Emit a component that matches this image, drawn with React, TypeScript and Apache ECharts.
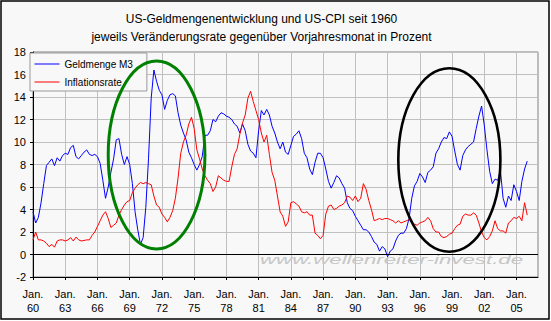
import React, { useEffect, useRef } from "react";
import * as echarts from "echarts";

// Quarterly values (Jan, Apr, Jul, Oct) starting Jan 1960
const geldmengeM3: number[] = [
  3.8, 2.8, 3.3, 4.6, // 1960
  6.3, 7.9, 8.2, 8.5, // 1961
  7.9, 8.6, 8.3, 8.8, // 1962
  9.0, 8.9, 9.5, 9.7, // 1963
  8.7, 8.5, 8.8, 9.1, // 1964
  9.3, 8.9, 8.8, 8.9, // 1965
  8.7, 8.1, 6.6, 5.0, // 1966
  6.0, 7.3, 8.5, 10.2, // 1967
  10.3, 8.9, 8.0, 8.7, // 1968
  8.0, 6.3, 3.8, 2.2, // 1969
  0.9, 1.5, 4.2, 8.5, // 1970
  13.9, 16.4, 15.4, 14.6, // 1971
  14.2, 12.9, 13.7, 14.2, // 1972
  14.3, 14.1, 12.6, 11.5, // 1973
  10.8, 10.2, 9.1, 8.6, // 1974
  8.0, 7.5, 8.0, 8.7, // 1975
  10.6, 10.6, 11.0, 12.0, // 1976
  11.8, 12.3, 12.6, 12.5, // 1977
  12.3, 12.2, 12.0, 11.6, // 1978
  11.4, 10.8, 11.6, 11.0, // 1979
  9.8, 9.2, 9.0, 8.6, // 1980
  11.0, 12.8, 12.4, 12.9, // 1981
  12.4, 11.4, 10.8, 10.0, // 1982
  9.4, 10.0, 9.1, 8.9, // 1983
  9.7, 10.5, 10.7, 11.0, // 1984
  10.3, 9.0, 8.6, 7.6, // 1985
  7.1, 8.2, 9.0, 9.0, // 1986
  8.6, 7.6, 6.5, 5.9, // 1987
  6.4, 7.0, 6.8, 6.3, // 1988
  5.9, 4.6, 4.1, 3.9, // 1989
  3.4, 3.0, 2.6, 2.2, // 1990
  2.2, 2.0, 1.6, 1.1, // 1991
  0.9, 0.3, 0.7, 0.5, // 1992
  -0.2, 0.3, 0.5, 1.2, // 1993
  1.7, 1.9, 1.9, 2.3, // 1994
  3.2, 5.0, 6.1, 6.5, // 1995
  7.2, 6.9, 6.4, 7.3, // 1996
  7.5, 7.8, 9.0, 9.4, // 1997
  10.0, 10.4, 10.3, 10.9, // 1998
  10.5, 9.2, 8.0, 7.5, // 1999
  8.8, 9.3, 9.6, 9.8, // 2000
  10.0, 11.2, 12.3, 13.2, // 2001
  11.5, 9.3, 7.4, 6.3, // 2002
  6.7, 6.6, 7.5, 5.0, // 2003
  4.2, 5.2, 4.8, 6.2, // 2004
  5.6, 4.8, 6.5, 7.6, // 2005
  8.3, // 2006
];

const inflationsrate: number[] = [
  1.3, 2.0, 1.3, 1.3, // 1960
  1.2, 1.0, 0.7, 0.9, // 1961
  0.65, 1.2, 1.3, 1.3, // 1962
  1.2, 1.3, 1.5, 1.2, // 1963
  1.55, 1.3, 1.2, 1.25, // 1964
  1.3, 1.3, 1.7, 2.0, // 1965
  2.5, 3.0, 3.5, 3.8, // 1966
  3.2, 2.4, 2.6, 2.8, // 1967
  3.5, 4.0, 4.4, 4.7, // 1968
  4.8, 5.5, 5.9, 6.2, // 1969
  6.4, 6.3, 6.4, 6.3, // 1970
  6.2, 5.2, 4.4, 4.2, // 1971
  3.6, 3.3, 2.9, 3.3, // 1972
  3.9, 5.0, 6.8, 9.0, // 1973
  10.0, 10.6, 11.6, 12.2, // 1974
  11.2, 9.3, 8.5, 7.6, // 1975
  7.0, 6.6, 6.3, 5.6, // 1976
  6.0, 7.0, 6.8, 6.6, // 1977
  6.5, 6.5, 7.8, 8.9, // 1978
  9.4, 10.7, 11.7, 12.4, // 1979
  13.9, 14.5, 13.6, 12.8, // 1980
  12.0, 10.8, 10.0, 10.6, // 1981
  8.9, 7.3, 6.6, 5.2, // 1982
  3.8, 3.4, 2.5, 2.9, // 1983
  4.6, 4.7, 4.5, 4.3, // 1984
  3.8, 3.7, 3.8, 3.5, // 1985
  3.5, 1.9, 1.7, 1.4, // 1986
  1.7, 3.6, 4.3, 4.4, // 1987
  4.0, 4.1, 4.3, 4.4, // 1988
  4.6, 5.2, 5.1, 4.8, // 1989
  5.2, 4.7, 5.0, 6.3, // 1990
  5.8, 4.8, 4.0, 3.0, // 1991
  3.1, 3.2, 3.1, 3.2, // 1992
  3.2, 3.1, 3.0, 2.8, // 1993
  3.0, 2.8, 2.9, 3.0, // 1994
  3.1, 2.9, 2.7, 2.6, // 1995
  2.8, 2.9, 3.0, 3.3, // 1996
  3.0, 2.3, 2.0, 2.0, // 1997
  1.6, 1.5, 1.6, 1.8, // 1998
  1.9, 2.3, 2.6, 2.7, // 1999
  3.4, 3.6, 3.5, 3.5, // 2000
  3.7, 3.5, 2.8, 2.0, // 2001
  1.5, 1.3, 1.6, 2.1, // 2002
  3.0, 2.3, 2.1, 2.1, // 2003
  1.9, 2.8, 3.0, 3.3, // 2004
  3.2, 3.4, 3.0, 4.6, // 2005
  3.5, // 2006
];

const quarterNames = ["Jan.", "Apr.", "Jul.", "Okt."];
const firstYear = 1960;
const lastYear = 2007; // axis ends at Jan. 07

const categories: string[] = [];
for (let y = firstYear; y <= lastYear; y++) {
  for (let q = 0; q < 4; q++) {
    if (y === lastYear && q > 0) break;
    categories.push(`${quarterNames[q]} ${String(y).slice(2)}`);
  }
}

const yMin = -2;
const yMax = 18;
const yInterval = 2;

const titleLines = [
  "US-Geldmengenentwicklung und US-CPI seit 1960",
  "jeweils Veränderungsrate gegenüber Vorjahresmonat in Prozent",
];
const seriesNames = ["Geldmenge M3", "Inflationsrate"];
const watermark = "www.wellenreiter-invest.de";

// Highlight ellipses in data units: [startYear, endYear, lowValue, highValue]
const greenEllipse = [1967.0, 1976.0, 0.5, 17.2];
const blackEllipse = [1994.08, 2003.56, 0.24, 16.55];

const FONT = '"Liberation Sans", Arial, Helvetica, sans-serif';

const yearToIndex = (yr: number) => (yr - firstYear) * 4;

export default function App() {
  const ref = useRef<HTMLDivElement | null>(null);

  useEffect(() => {
    if (!ref.current) return;
    const chart = echarts.init(ref.current, undefined, { renderer: "svg" });

    const option: any = {
      animation: false,
      backgroundColor: "#ffffff",
      textStyle: { fontFamily: FONT },
      grid: {
        left: 33,
        right: 13,
        top: 52,
        bottom: 44,
        show: true,
        backgroundColor: "#f8f8f8",
        borderColor: "#808080",
        borderWidth: 1,
      },
      legend: {
        orient: "vertical",
        left: 30,
        top: 53,
        padding: [6, 14, 4, 4],
        itemWidth: 25,
        itemHeight: 10,
        itemGap: 8,
        backgroundColor: "#f8f8f8",
        borderColor: "#999999",
        borderWidth: 1,
        selectedMode: false,
        itemStyle: { opacity: 0 },
        lineStyle: { width: 1 },
        textStyle: { fontSize: 10, color: "#000", fontFamily: FONT },
        data: seriesNames,
      },
      xAxis: {
        type: "category",
        data: categories,
        boundaryGap: false,
        axisLine: { onZero: false, lineStyle: { color: "#000", width: 1 } },
        axisTick: { interval: 11, length: 3, lineStyle: { color: "#000" } },
        axisLabel: {
          interval: 11,
          formatter: (v: string) => v.replace(" ", "\n"),
          fontSize: 11,
          lineHeight: 14,
          color: "#000",
          margin: 10,
          fontFamily: FONT,
        },
        splitLine: { show: true, interval: 11, lineStyle: { color: "#c0c0c0", width: 1 } },
      },
      yAxis: {
        type: "value",
        min: yMin,
        max: yMax,
        interval: yInterval,
        axisLine: { show: true, lineStyle: { color: "#000", width: 1 } },
        axisTick: { show: true, length: 3, lineStyle: { color: "#000" } },
        axisLabel: { fontSize: 11, color: "#000", margin: 7, fontFamily: FONT },
        splitLine: { show: true, lineStyle: { color: "#c0c0c0", width: 1 } },
      },
      series: [
        {
          name: seriesNames[0],
          type: "line",
          data: geldmengeM3,
          symbol: "none",
          lineStyle: { color: "#0000ff", width: 1 },
          itemStyle: { color: "#0000ff" },
          markLine: {
            silent: true,
            symbol: ["none", "none"],
            label: { show: false },
            lineStyle: { color: "#000", width: 1, type: "solid" },
            data: [{ yAxis: 0 }],
          },
        },
        {
          name: seriesNames[1],
          type: "line",
          data: inflationsrate,
          symbol: "none",
          lineStyle: { color: "#ff0000", width: 1 },
          itemStyle: { color: "#ff0000" },
        },
      ],
    };
    chart.setOption(option);

    const toEllipse = (box: number[], color: string, lw: number) => {
      const p0 = chart.convertToPixel({ gridIndex: 0 }, [yearToIndex(box[0]), box[3]]) as number[];
      const p1 = chart.convertToPixel({ gridIndex: 0 }, [yearToIndex(box[1]), box[2]]) as number[];
      return {
        type: "ellipse",
        z: 100,
        silent: true,
        shape: {
          cx: (p0[0] + p1[0]) / 2,
          cy: (p0[1] + p1[1]) / 2,
          rx: Math.abs(p1[0] - p0[0]) / 2,
          ry: Math.abs(p1[1] - p0[1]) / 2,
        },
        style: { fill: "none", stroke: color, lineWidth: lw },
      };
    };

    chart.setOption({
      graphic: [
        {
          type: "rect",
          z: -10,
          silent: true,
          shape: { x: 1, y: 1, width: 548, height: 318 },
          style: { fill: "#f8f8f8", stroke: "#000", lineWidth: 1.5 },
        },
        {
          type: "text",
          x: 261.5,
          y: 18.5,
          silent: true,
          style: {
            text: titleLines[0],
            font: `12px ${FONT}`,
            fill: "#000",
            align: "center",
            verticalAlign: "middle",
            textAlign: "center",
            textVerticalAlign: "middle",
          },
        },
        {
          type: "text",
          x: 261.5,
          y: 36.5,
          silent: true,
          style: {
            text: titleLines[1],
            font: `12px ${FONT}`,
            fill: "#000",
            align: "center",
            verticalAlign: "middle",
            textAlign: "center",
            textVerticalAlign: "middle",
          },
        },
        {
          type: "text",
          x: 260,
          y: 259.5,
          scaleX: 1.65,
          z: 1,
          silent: true,
          style: {
            text: watermark,
            font: `italic 13.5px ${FONT}`,
            fill: "#c6c6c6",
            align: "left",
            verticalAlign: "middle",
            textAlign: "left",
            textVerticalAlign: "middle",
          },
        },
        toEllipse(greenEllipse, "#008000", 3),
        toEllipse(blackEllipse, "#000000", 2.6),
      ],
    });

    return () => {
      chart.dispose();
    };
  }, []);

  return (
    <div
      ref={ref}
      style={{ position: "absolute", left: 0, top: 0, width: 551, height: 321 }}
    />
  );
}
